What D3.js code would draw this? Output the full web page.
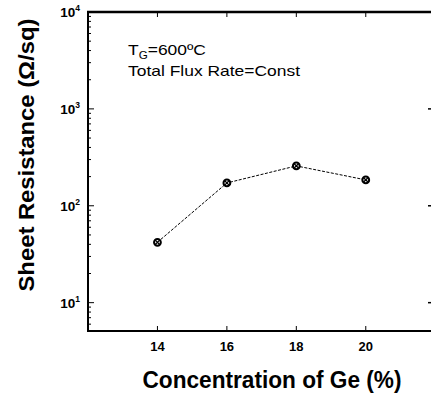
<!DOCTYPE html>
<html>
<head>
<meta charset="utf-8">
<script src="https://cdn.jsdelivr.net/npm/d3@7"></script>
<style>
  html, body { margin: 0; padding: 0; background: #fff; }
  svg { display: block; font-family: "Liberation Sans", Arial, sans-serif; }
</style>
</head>
<body>
<div id="chart"></div>
<script>
// données
const concentration = [14, 16, 18, 20];
const resistance = [42, 172, 258, 185];
const xTicks = [14, 16, 18, 20];
const yDecades = [1, 2, 3, 4];

const width = 431, height = 394;
const plotLeft = 88, plotRight = 430, plotTop = 12, plotBottom = 331;

const svg = d3.select('#chart').append('svg')
  .attr('width', width).attr('height', height);

const x = d3.scaleLinear().domain([12, 21.85]).range([plotLeft, plotRight]);
const y = d3.scaleLog().domain([5.1, 1e4]).range([plotBottom, plotTop]);

// ticks mineurs de l'axe log
const minorY = [];
yDecades.forEach(e => {
  for (let k = 1; k <= 9; k++) {
    const v = k * Math.pow(10, e - 1);
    if (v >= 5.1 && v <= 1e4) minorY.push(v);
  }
});
minorY.push(1e4);

const ax = svg.append('g').attr('stroke', '#000');

// ticks gauche
ax.selectAll('.ymin').data(minorY).enter().append('line')
  .attr('x1', plotLeft).attr('x2', d => yDecades.some(e => Math.abs(Math.log10(d) - e) < 1e-9) ? plotLeft + 6 : plotLeft + 3)
  .attr('y1', d => y(d)).attr('y2', d => y(d))
  .attr('stroke-width', 1);

// ticks droite (à peine visibles)
ax.selectAll('.yr').data(yDecades.slice(0, 3).map(e => Math.pow(10, e))).enter().append('line')
  .attr('x1', plotRight - 2).attr('x2', plotRight + 1)
  .attr('y1', d => y(d)).attr('y2', d => y(d))
  .attr('stroke-width', 1.5);

// ticks bas et haut
ax.selectAll('.xb').data(xTicks).enter().append('line')
  .attr('x1', d => x(d)).attr('x2', d => x(d))
  .attr('y1', plotBottom).attr('y2', plotBottom - 5).attr('stroke-width', 1);
ax.selectAll('.xt').data(xTicks).enter().append('line')
  .attr('x1', d => x(d)).attr('x2', d => x(d))
  .attr('y1', plotTop).attr('y2', plotTop + 5).attr('stroke-width', 1);

// cadre
ax.append('line').attr('x1', plotLeft).attr('x2', plotLeft).attr('y1', plotTop - 1).attr('y2', plotBottom + 1).attr('stroke-width', 2);
ax.append('line').attr('x1', plotLeft - 1).attr('x2', width).attr('y1', plotBottom).attr('y2', plotBottom).attr('stroke-width', 2);
ax.append('line').attr('x1', plotLeft - 1).attr('x2', width).attr('y1', plotTop).attr('y2', plotTop).attr('stroke-width', 2.5);

// étiquettes x
svg.selectAll('.xl').data(xTicks).enter().append('text')
  .attr('x', d => x(d)).attr('y', 351)
  .attr('text-anchor', 'middle')
  .attr('font-size', 13).attr('font-weight', 'bold')
  .text(d => d);

// étiquettes y : 10^n
const yl = svg.selectAll('.yl').data(yDecades).enter().append('text')
  .attr('x', 80).attr('y', d => y(Math.pow(10, d)) + 5)
  .attr('text-anchor', 'end')
  .attr('font-size', 13.5).attr('font-weight', 'bold');
yl.append('tspan').text('10');
yl.append('tspan').attr('font-size', 8.5).attr('dy', -6).text(d => d);

// titres des axes
svg.append('text')
  .attr('transform', `translate(34,${155}) rotate(-90)`)
  .attr('text-anchor', 'middle')
  .attr('font-size', 22).attr('font-weight', 'bold')
  .attr('textLength', 273).attr('lengthAdjust', 'spacingAndGlyphs')
  .text('Sheet Resistance (\u03A9/sq)');

svg.append('text')
  .attr('x', 272).attr('y', 388)
  .attr('text-anchor', 'middle')
  .attr('font-size', 23).attr('font-weight', 'bold')
  .attr('textLength', 259).attr('lengthAdjust', 'spacingAndGlyphs')
  .text('Concentration of Ge (%)');

// annotation
const ann = svg.append('text').attr('x', 128).attr('y', 55).attr('font-size', 15)
  .attr('textLength', 78).attr('lengthAdjust', 'spacingAndGlyphs');
ann.append('tspan').text('T');
ann.append('tspan').attr('font-size', 10).attr('dy', 4).text('G');
ann.append('tspan').attr('dy', -4).text('=600\u00BAC');
svg.append('text').attr('x', 128).attr('y', 76).attr('font-size', 15)
  .attr('textLength', 172).attr('lengthAdjust', 'spacingAndGlyphs')
  .text('Total Flux Rate=Const');

// série
const pts = concentration.map((c, i) => [c, resistance[i]]);
svg.append('path')
  .datum(pts)
  .attr('fill', 'none').attr('stroke', '#000').attr('stroke-width', 1)
  .attr('stroke-dasharray', '3,1.5')
  .attr('d', d3.line().x(d => x(d[0])).y(d => y(d[1])));

const mk = svg.selectAll('.mk').data(pts).enter().append('g')
  .attr('transform', d => `translate(${x(d[0])},${y(d[1])})`);
mk.append('circle').attr('r', 3.4).attr('fill', '#fff').attr('stroke', '#000').attr('stroke-width', 2);
mk.append('path').attr('d', 'M-2.4,-2.4L2.4,2.4M-2.4,2.4L2.4,-2.4').attr('stroke', '#000').attr('stroke-width', 1.3);
</script>
</body>
</html>
